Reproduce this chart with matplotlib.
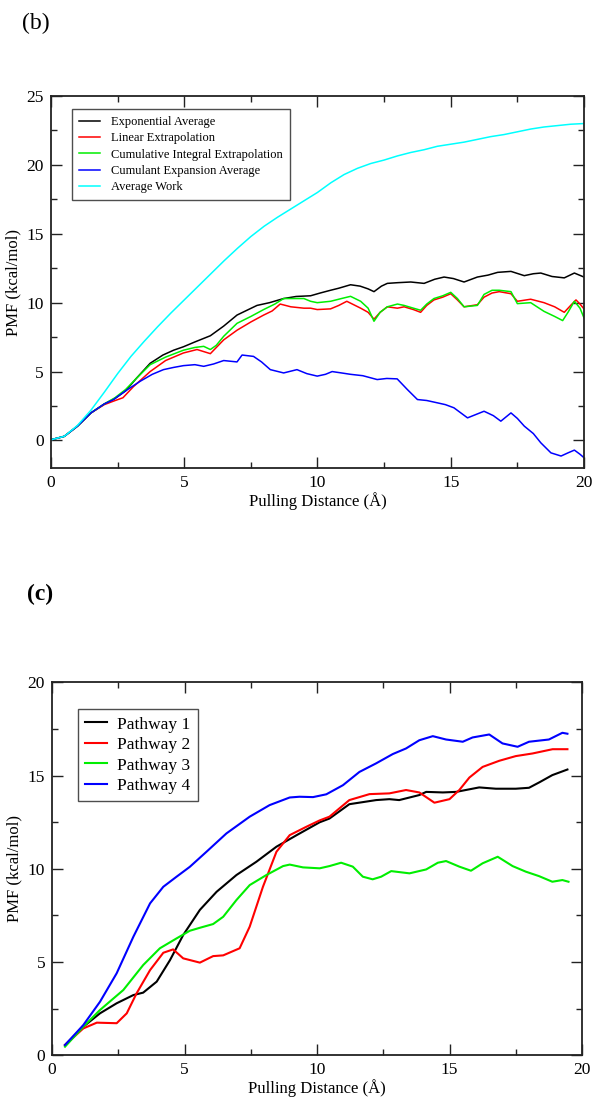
import matplotlib

matplotlib.use("Agg")
import matplotlib.pyplot as plt
from matplotlib.ticker import MultipleLocator

plt.rcParams["font.family"] = ["Liberation Serif", "DejaVu Serif"]

# ---- panel (b): PMF estimators ----
b_labels = ["Exponential Average", "Linear Extrapolation",
            "Cumulative Integral Extrapolation", "Cumulant Expansion Average",
            "Average Work"]
b_colors = ["#000000", "#ff0000", "#00ee00", "#0000ff", "#00ffff"]

exp_x = [0, 0.5, 1.0, 1.5, 2.0, 2.4, 2.8, 3.2, 3.72, 4.2, 4.6, 4.97, 5.4, 5.98, 6.48,
         6.98, 7.3, 7.73, 8.2, 8.73, 9.2, 9.74, 10.1, 10.49, 10.8, 11.24, 11.6, 11.9,
         12.12, 12.4, 12.62, 13.0, 13.5, 14.0, 14.4, 14.75, 15.1, 15.5, 16.0, 16.4,
         16.76, 17.26, 17.76, 18.1, 18.38, 18.8, 19.26, 19.64, 20.0]
exp_y = [0.05, 0.3, 1.05, 2.0, 2.65, 3.05, 3.6, 4.5, 5.6, 6.2, 6.55, 6.8, 7.15, 7.6, 8.3,
         9.1, 9.4, 9.8, 10.0, 10.3, 10.45, 10.5, 10.7, 10.9, 11.05, 11.3, 11.2, 11.0,
         10.8, 11.2, 11.4, 11.45, 11.5, 11.4, 11.7, 11.86, 11.75, 11.5, 11.86, 12.0,
         12.2, 12.27, 11.96, 12.1, 12.15, 11.9, 11.8, 12.15, 11.86]

lin_x = [0, 0.5, 1.0, 1.5, 2.0, 2.34, 2.7, 3.09, 3.72, 4.3, 4.97, 5.48, 5.98, 6.48, 6.98,
         7.5, 7.98, 8.3, 8.6, 9.0, 9.49, 9.74, 9.99, 10.49, 10.8, 11.1, 11.62, 11.9,
         12.12, 12.35, 12.62, 13.0, 13.25, 13.6, 13.87, 14.1, 14.37, 14.7, 15.0, 15.25,
         15.5, 16.0, 16.25, 16.55, 16.82, 17.26, 17.5, 18.0, 18.5, 18.9, 19.26, 19.5,
         19.7, 19.85, 20.0]
lin_y = [0.05, 0.3, 1.05, 2.0, 2.6, 2.85, 3.1, 3.9, 5.0, 5.8, 6.35, 6.6, 6.3, 7.3, 8.0,
         8.6, 9.1, 9.4, 9.9, 9.7, 9.6, 9.6, 9.5, 9.55, 9.8, 10.1, 9.6, 9.3,
         8.8, 9.3, 9.7, 9.6, 9.7, 9.5, 9.3, 9.8, 10.2, 10.4, 10.65, 10.2,
         9.7, 9.85, 10.4, 10.7, 10.8, 10.65, 10.1, 10.25, 10.0, 9.7, 9.3, 9.8,
         10.2, 9.9, 9.55]

cum_x = [0, 0.5, 1.0, 1.5, 2.0, 2.4, 2.8, 3.2, 3.72, 4.3, 4.97, 5.4, 5.73, 5.98, 6.2,
         6.48, 6.98, 7.5, 7.98, 8.4, 8.73, 9.1, 9.49, 9.74, 9.99, 10.49, 10.9, 11.24,
         11.62, 11.9, 12.12, 12.35, 12.62, 13.0, 13.25, 13.6, 13.87, 14.1, 14.37, 14.7,
         15.0, 15.25, 15.5, 16.0, 16.25, 16.55, 16.82, 17.26, 17.5, 18.0, 18.5, 18.9,
         19.2, 19.4, 19.64, 19.85, 20.0]
cum_y = [0.05, 0.3, 1.05, 2.0, 2.65, 3.1, 3.7, 4.5, 5.5, 6.05, 6.55, 6.75, 6.83, 6.6, 6.9,
         7.56, 8.5, 9.0, 9.5, 9.9, 10.3, 10.3, 10.3, 10.1, 10.0, 10.1, 10.3, 10.46,
         10.1, 9.6, 8.65, 9.3, 9.7, 9.9, 9.8, 9.6, 9.45, 9.9, 10.3, 10.5,
         10.75, 10.3, 9.7, 9.8, 10.6, 10.9, 10.9, 10.8, 9.93, 10.0, 9.37, 9.0,
         8.7, 9.3, 10.1, 9.6, 8.9]

cex_x = [0, 0.5, 1.0, 1.5, 2.0, 2.34, 2.8, 3.35, 3.8, 4.22, 4.6, 4.97, 5.4, 5.73, 6.1,
         6.48, 6.98, 7.17, 7.6, 7.9, 8.23, 8.73, 9.23, 9.6, 9.99, 10.3, 10.55, 10.9,
         11.24, 11.7, 12.24, 12.6, 12.99, 13.37, 13.75, 14.1, 14.5, 14.8, 15.12, 15.63,
         16.25, 16.6, 16.88, 17.26, 17.5, 17.76, 18.1, 18.38, 18.76, 19.14, 19.4, 19.64,
         19.85, 20.0]
cex_y = [0.05, 0.3, 1.05, 2.0, 2.65, 2.96, 3.6, 4.3, 4.8, 5.14, 5.3, 5.43, 5.5, 5.38, 5.55,
         5.8, 5.7, 6.2, 6.1, 5.7, 5.14, 4.9, 5.14, 4.85, 4.67, 4.8, 5.0, 4.9,
         4.8, 4.7, 4.42, 4.5, 4.47, 3.7, 2.97, 2.9, 2.73, 2.6, 2.37, 1.64,
         2.12, 1.8, 1.4, 2.0, 1.6, 1.04, 0.5, -0.17, -0.9, -1.13, -0.9, -0.7,
         -1.0, -1.25]

work_x = [0, 0.5, 1.0, 1.5, 2.0, 2.5, 3.0, 3.5, 4.0, 4.5, 5.0, 5.5, 6.0, 6.5, 7.0, 7.5,
          8.0, 8.5, 9.0, 9.5, 10.0, 10.5, 11.0, 11.5, 12.0, 12.5, 13.0, 13.5, 14.0,
          14.5, 15.0, 15.5, 16.0, 16.5, 17.0, 17.5, 18.0, 18.5, 19.0, 19.5, 20.0]
work_y = [0.05, 0.3, 1.1, 2.2, 3.5, 4.85, 6.1, 7.2, 8.25, 9.25, 10.2, 11.15, 12.1, 13.05,
          13.95, 14.8, 15.55, 16.2, 16.8, 17.4, 18.0, 18.7, 19.3, 19.75, 20.1, 20.35,
          20.65, 20.9, 21.1, 21.35, 21.5, 21.65, 21.85, 22.05, 22.2, 22.4, 22.6, 22.75,
          22.85, 22.95, 23.0]

# ---- panel (c): pathways ----
c_labels = ["Pathway 1", "Pathway 2", "Pathway 3", "Pathway 4"]
c_colors = ["#000000", "#ff0000", "#00ee00", "#0000ff"]

p1_x = [0.49, 1.18, 1.81, 2.44, 3.07, 3.44, 3.95, 4.45, 4.95, 5.58, 6.21, 6.96, 7.71, 8.47,
        9.22, 10.1, 10.47, 11.22, 12.23, 12.73, 13.1, 13.86, 14.12, 14.75, 15.25, 16.12,
        16.75, 17.5, 18.0, 18.4, 18.88, 19.45]
p1_y = [0.55, 1.53, 2.25, 2.79, 3.23, 3.36, 3.95, 5.1, 6.45, 7.8, 8.77, 9.67, 10.38, 11.19,
        11.8, 12.5, 12.7, 13.47, 13.69, 13.74, 13.69, 13.96, 14.13, 14.1, 14.13, 14.37,
        14.3, 14.3, 14.35, 14.65, 15.03, 15.33]

p2_x = [0.49, 1.18, 1.69, 2.44, 2.82, 3.19, 3.7, 4.2, 4.57, 4.95, 5.58, 6.08, 6.46, 7.08,
        7.46, 7.96, 8.47, 8.97, 9.6, 10.1, 10.47, 11.22, 11.98, 12.73, 13.36, 13.86,
        14.43, 15.0, 15.37, 15.75, 16.25, 16.88, 17.5, 18.13, 18.89, 19.45]
p2_y = [0.55, 1.44, 1.75, 1.72, 2.25, 3.32, 4.57, 5.5, 5.68, 5.2, 4.97, 5.32, 5.36, 5.74,
        6.9, 9.04, 10.92, 11.81, 12.26, 12.6, 12.8, 13.69, 14.01, 14.05, 14.23, 14.1,
        13.55, 13.74, 14.23, 14.9, 15.47, 15.8, 16.05, 16.19, 16.42, 16.42]

p3_x = [0.49, 1.18, 1.81, 2.69, 3.44, 4.07, 4.7, 5.2, 5.58, 6.08, 6.46, 6.96, 7.46, 8.09,
        8.72, 8.97, 9.47, 10.1, 10.47, 10.91, 11.35, 11.73, 12.1, 12.42, 12.8, 13.49,
        14.12, 14.56, 14.87, 15.37, 15.81, 16.25, 16.82, 17.38, 17.88, 18.38, 18.88,
        19.26, 19.49]
p3_y = [0.46, 1.53, 2.43, 3.5, 4.84, 5.74, 6.27, 6.68, 6.84, 7.04, 7.43, 8.33, 9.13, 9.67,
        10.15, 10.23, 10.08, 10.03, 10.15, 10.33, 10.12, 9.58, 9.44, 9.58, 9.88, 9.76,
        9.97, 10.33, 10.42, 10.12, 9.9, 10.3, 10.65, 10.15, 9.85, 9.61, 9.31, 9.4, 9.31]

p4_x = [0.49, 1.18, 1.81, 2.44, 3.07, 3.7, 4.2, 4.7, 5.2, 5.83, 6.58, 7.46, 8.21, 8.97,
        9.34, 9.85, 10.35, 10.98, 11.6, 12.23, 12.86, 13.36, 13.86, 14.37, 14.87, 15.5,
        15.87, 16.5, 17.0, 17.57, 18.0, 18.75, 19.26, 19.45]
p4_y = [0.55, 1.62, 2.87, 4.4, 6.36, 8.15, 9.04, 9.58, 10.11, 10.92, 11.9, 12.8, 13.42,
        13.83, 13.87, 13.85, 14.0, 14.49, 15.2, 15.66, 16.16, 16.46, 16.9, 17.12, 16.94,
        16.82, 17.05, 17.21, 16.73, 16.55, 16.82, 16.94, 17.3, 17.25]

x_ticks = [0, 5, 10, 15, 20]


def style_axes(ax, ymin, ymax, yticks):
    ax.set_xlim(0, 20)
    ax.set_ylim(ymin, ymax)
    ax.set_xticks(x_ticks)
    ax.set_yticks(yticks)
    ax.xaxis.set_minor_locator(MultipleLocator(2.5))
    ax.yaxis.set_minor_locator(MultipleLocator(2.5))
    ax.tick_params(which="both", direction="in", top=True, right=True,
                   labelsize=12.5, width=1.0, color="#222222", pad=5)
    ax.tick_params(which="major", length=8)
    ax.tick_params(which="minor", length=4)
    for s in ax.spines.values():
        s.set_linewidth(1.3)
        s.set_color("#222222")
    ax.set_xlabel("Pulling Distance (Å)", fontsize=12, labelpad=1)
    ax.set_ylabel("PMF (kcal/mol)", fontsize=12, labelpad=4)


fig = plt.figure(figsize=(6.0, 11.02), dpi=100)

ax_b = fig.add_axes([0.085, 0.5753, 0.8883, 0.3376])
b_series = [(exp_x, exp_y), (lin_x, lin_y), (cum_x, cum_y), (cex_x, cex_y),
            (work_x, work_y)]
for (xs, ys), lab, col in zip(b_series, b_labels, b_colors):
    ax_b.plot(xs, ys, color=col, lw=1.1, label=lab)
style_axes(ax_b, -2, 25, [0, 5, 10, 15, 20, 25])
leg = ax_b.legend(loc="upper left", bbox_to_anchor=(0.039, 0.965), borderaxespad=0,
                  fontsize=9, frameon=True, fancybox=False, handlelength=1.7,
                  handletextpad=0.9, labelspacing=0.35, borderpad=0.55)
leg.get_frame().set_edgecolor("#222222")
leg.get_frame().set_linewidth(1.0)
fig.text(0.037, 0.979, "(b)", fontsize=17, va="center", ha="left")

ax_c = fig.add_axes([0.0867, 0.0424, 0.8833, 0.3383])
c_series = [(p1_x, p1_y), (p2_x, p2_y), (p3_x, p3_y), (p4_x, p4_y)]
for (xs, ys), lab, col in zip(c_series, c_labels, c_colors):
    ax_c.plot(xs, ys, color=col, lw=1.5, label=lab)
style_axes(ax_c, 0, 20, [0, 5, 10, 15, 20])
leg = ax_c.legend(loc="upper left", bbox_to_anchor=(0.0496, 0.9276), borderaxespad=0,
                  fontsize=12.5, frameon=True, fancybox=False, handlelength=1.25,
                  handletextpad=0.6, labelspacing=0.25, borderpad=0.4)
leg.get_frame().set_edgecolor("#222222")
leg.get_frame().set_linewidth(1.0)
fig.text(0.045, 0.461, "(c)", fontsize=17, fontweight="bold", va="center", ha="left")

fig.savefig("out.png", dpi=100)
